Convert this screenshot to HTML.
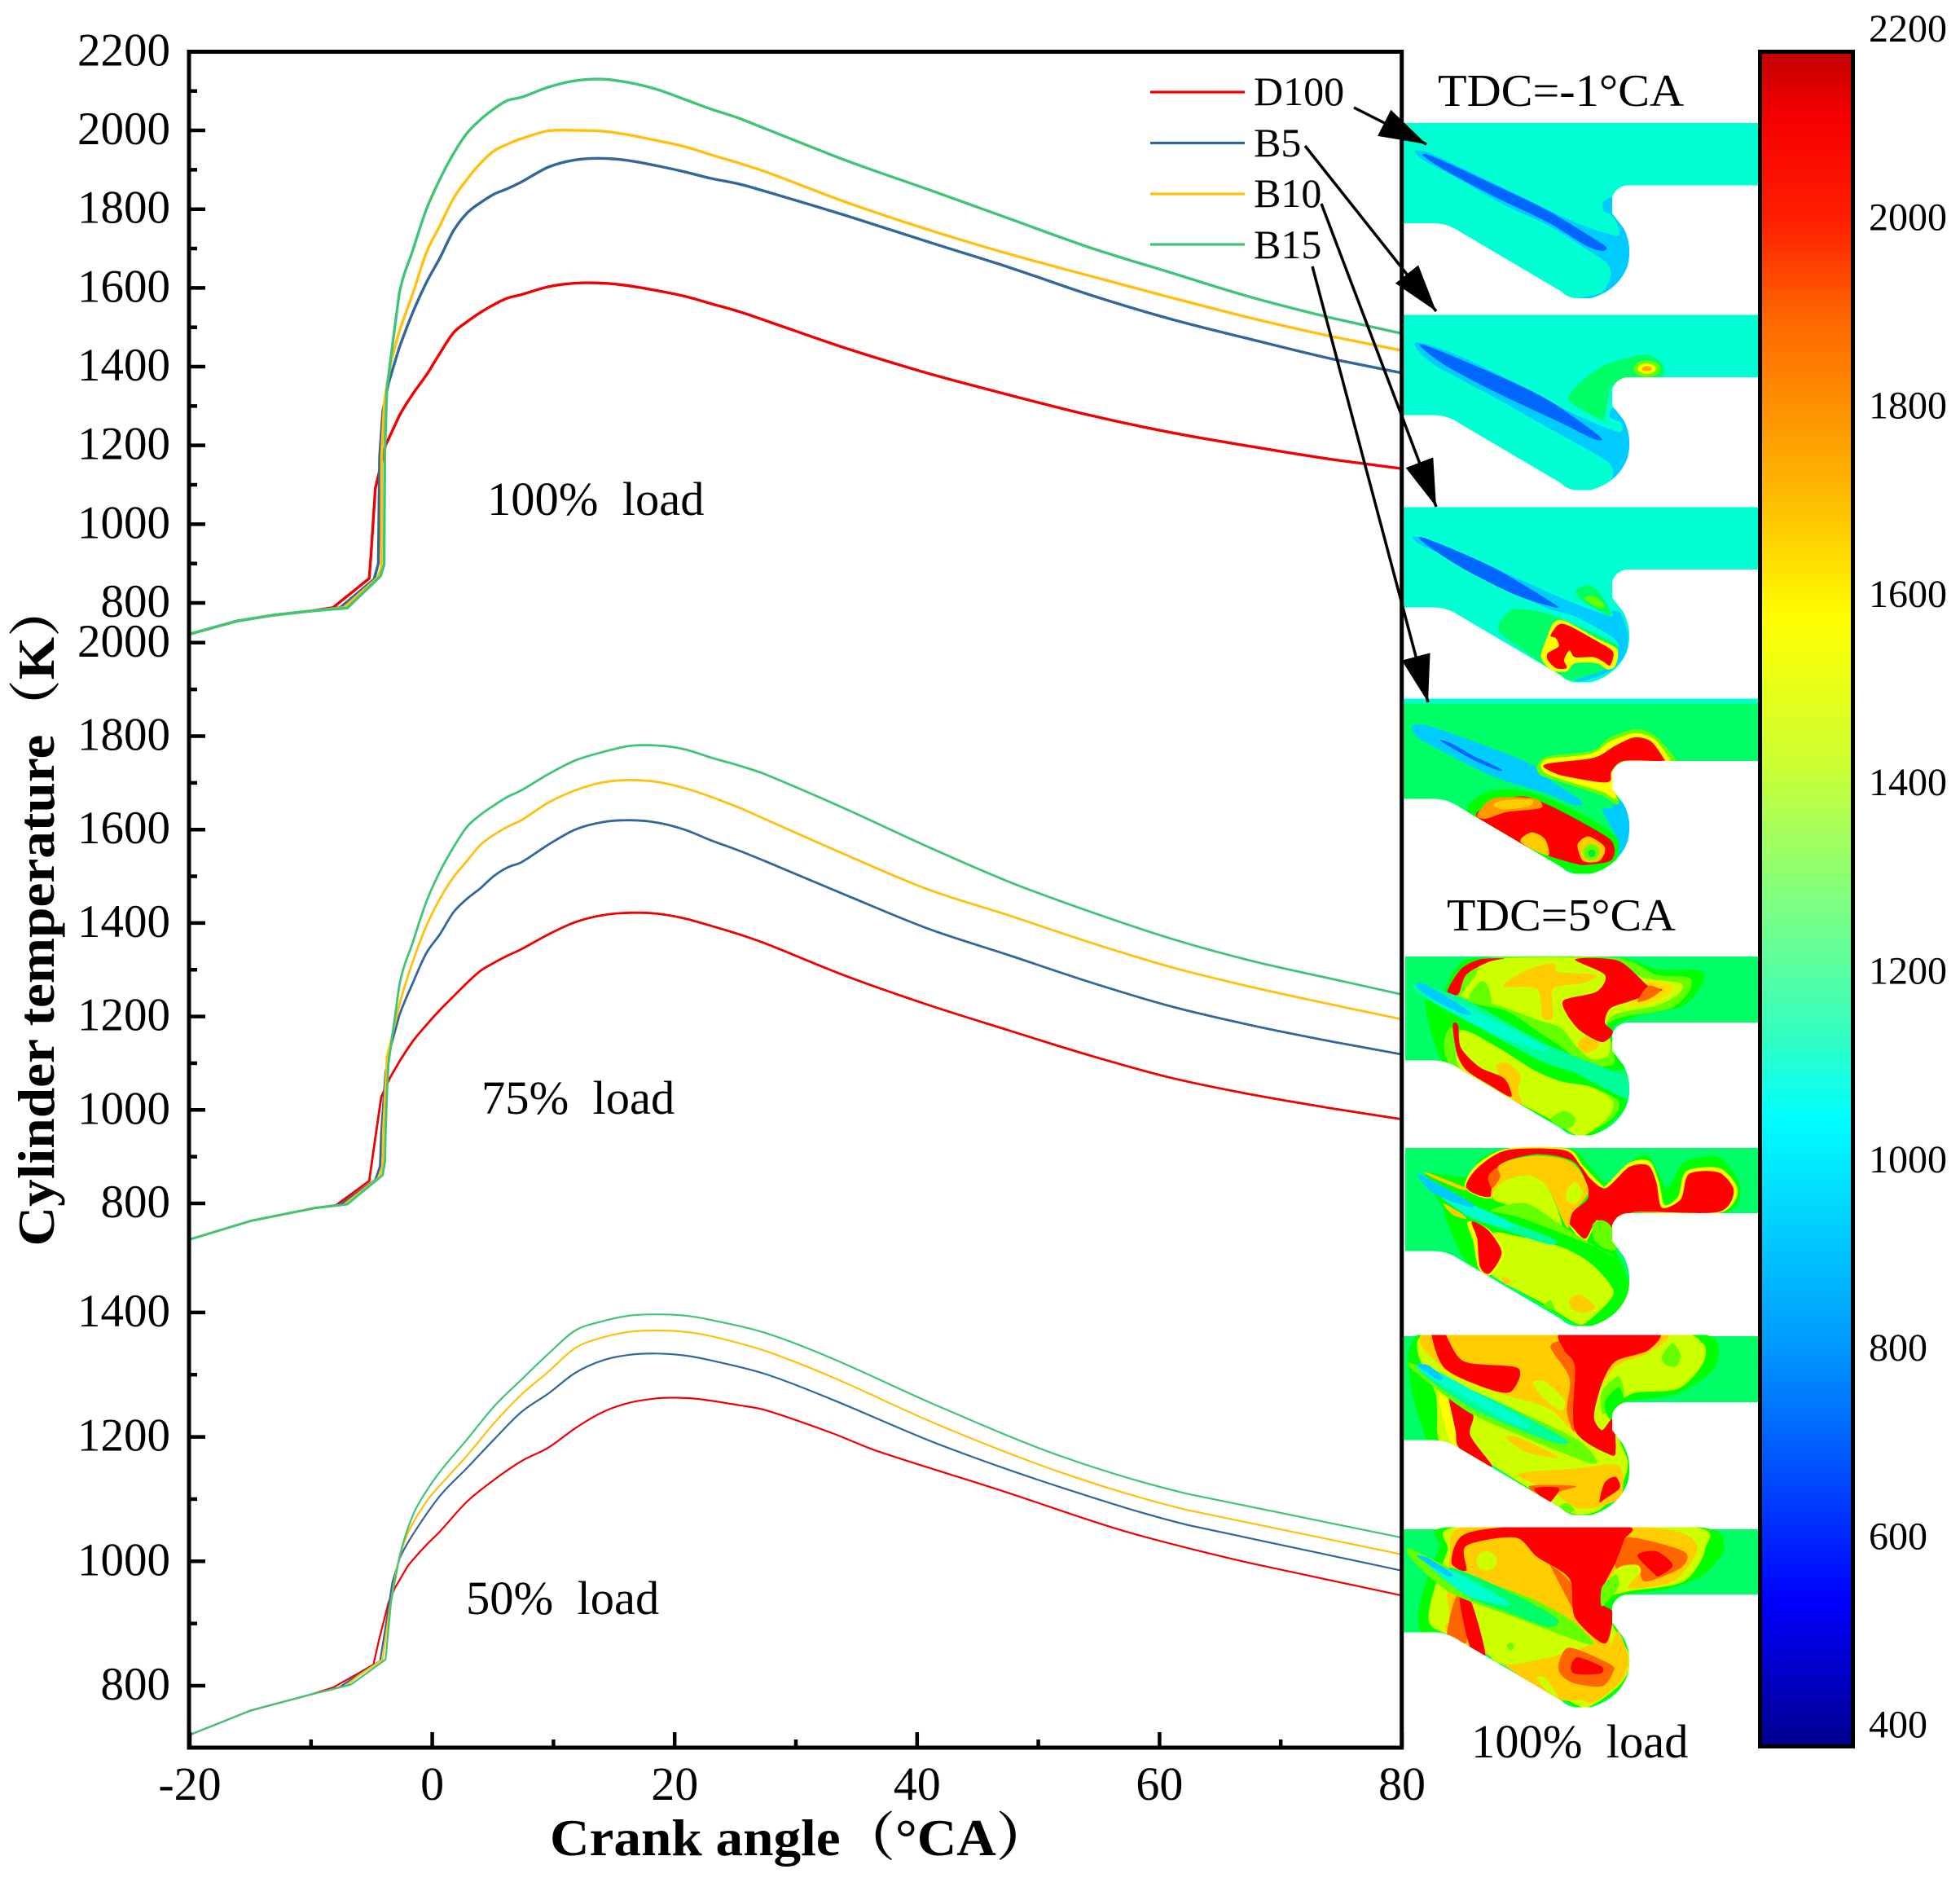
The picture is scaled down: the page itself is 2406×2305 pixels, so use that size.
<!DOCTYPE html>
<html lang="en">
<head>
<meta charset="utf-8">
<title>Cylinder temperature vs crank angle</title>
<style>
html,body{margin:0;padding:0;background:#fff}
svg{display:block}
text{font-family:"Liberation Serif","Noto Serif CJK SC",serif;fill:#000}
</style>
</head>
<body>
<svg id="chart" xmlns="http://www.w3.org/2000/svg" width="2406" height="2305" viewBox="0 0 2406 2305">
<defs>
<clipPath id="chamber"><path d="M0,-6 H436 V76.5 H275 Q262 78 257 91 V111 L271 129 Q282 150 276 175 Q265 205 231 215 H211 Q200 213 195 207 L71 134 Q55 123 38 123 H0 Z"/></clipPath>
<linearGradient id="cbar" gradientUnits="userSpaceOnUse" x1="0" y1="66" x2="0" y2="2141">
<stop offset="0" stop-color="#c40000"/><stop offset=".04" stop-color="#f80000"/><stop offset=".1" stop-color="#ff2000"/><stop offset=".155" stop-color="#ff6600"/><stop offset=".255" stop-color="#ffb400"/><stop offset=".335" stop-color="#ffff00"/><stop offset=".42" stop-color="#ccff33"/><stop offset=".5" stop-color="#80ff80"/><stop offset=".58" stop-color="#33ffc0"/><stop offset=".63" stop-color="#00ffff"/><stop offset=".765" stop-color="#0099ff"/><stop offset=".915" stop-color="#0000ff"/><stop offset="1" stop-color="#000090"/>
</linearGradient>
<marker id="arrowhead" markerUnits="userSpaceOnUse" markerWidth="60" markerHeight="40" refX="58" refY="20" orient="auto"><path d="M0,2 L58,20 L0,38 Z" fill="#000"/></marker>
</defs>

<rect x="0" y="0" width="2406" height="2305" fill="#fff"/>

<!-- contour panels -->
<g class="contour" transform="translate(1722,151)" clip-path="url(#chamber)">
<rect x="0" y="0" width="436" height="220" fill="#00ffd2"/>
<g transform="matrix(.33333,0,0,.35714,-22,-121)">
<polygon fill="#00ccff" points="110,435 160,440 300,500 500,590 700,680 850,725 860,700 840,660 805,640 805,610 838,595 850,650 880,690 910,770 905,830 870,900 800,945 700,950 740,935 800,920 830,870 825,830 780,795 600,690 450,625 250,520 140,465"/>
<polygon fill="#0066ff" points="140,450 180,455 400,550 600,640 760,730 815,765 800,778 740,760 600,680 400,590 220,500"/>
</g></g>

<g class="contour" transform="translate(1722,386.5)" clip-path="url(#chamber)">
<rect x="0" y="0" width="436" height="220" fill="#00ffd2"/>
<g transform="matrix(.33333,0,0,.35714,-22,-356.5)">
<polygon fill="#00ccff" points="110,1095 160,1100 300,1150 520,1250 700,1340 860,1400 870,1370 830,1350 835,1320 870,1340 905,1420 905,1500 880,1560 820,1610 700,1620 780,1600 830,1570 840,1530 800,1490 600,1385 400,1280 200,1180 130,1130"/>
<polygon fill="#0066ff" points="130,1105 170,1110 400,1200 600,1290 790,1415 770,1425 650,1370 400,1260 220,1170"/>
<polygon fill="#00ff66" points="675,1285 720,1230 800,1175 900,1145 970,1135 1020,1165 1030,1195 1010,1213 900,1213 850,1235 830,1250 810,1350 800,1360 720,1320"/>
<ellipse cx="965" cy="1183" rx="50" ry="28" fill="#66ff00"/>
<ellipse cx="965" cy="1183" rx="33" ry="18" fill="#ffff00"/>
<ellipse cx="965" cy="1183" rx="18" ry="9" fill="#ffaa00"/>
</g></g>

<g class="contour" transform="translate(1722,622.5)" clip-path="url(#chamber)">
<rect x="0" y="0" width="436" height="220" fill="#00ffd2"/>
<g transform="matrix(.33333,0,0,.33333,-22,-32.5)">
<polygon fill="#00ccff" points="105,205 200,230 400,320 600,410 720,460 835,500 835,480 870,490 895,570 885,640 830,700 740,735 700,735 780,705 830,680 860,610 830,570 700,500 600,470 450,400 250,290 130,235"/>
<polygon fill="#00ff66" points="425,560 430,510 470,475 530,475 600,490 700,530 830,590 860,620 840,670 790,705 720,725 690,735 640,715 560,660"/>
<polygon fill="#ffff00" points="575,640 600,570 620,525 660,515 780,580 855,620 850,680 820,695 780,672 700,672 670,702 620,700 585,670"/>
<polygon fill="#ff0000" points="610,570 640,530 680,535 780,590 840,630 830,680 810,670 770,650 700,650 680,625 660,660 670,690 630,690 600,660 600,635 640,610 630,580"/>
<polygon fill="#00ff66" points="705,400 750,385 790,410 830,480 820,495 740,450 710,425"/>
<polygon fill="#66ff00" points="735,435 770,425 810,460 790,470"/>
<polygon fill="#0066ff" points="125,210 170,220 400,320 625,455 610,462 480,420 300,330 180,255"/>
</g></g>

<g class="contour" transform="translate(1722,857.5)" clip-path="url(#chamber)">
<rect x="0" y="0" width="436" height="220" fill="#00ff66"/>
<rect x="0" y="0" width="436" height="6" fill="#00ffd2"/>
<g transform="matrix(.33333,0,0,.33333,-22,-267.5)">
<polygon fill="#00ccff" points="100,905 150,900 300,950 530,1040 620,1110 725,1180 700,1195 590,1150 400,1090 200,990 120,945"/>
<polygon fill="#0066ff" points="205,958 240,965 330,1015 425,1060 415,1066 320,1025"/>
<polygon fill="#00ccff" points="800,1210 830,1205 870,1180 905,1250 905,1320 870,1370 850,1380 860,1330 830,1270"/>
<polygon fill="#00ffd2" points="870,1370 905,1320 900,1350 860,1410 790,1445 700,1448 780,1425 840,1400"/>
<polygon fill="#66ff00" points="560,1050 600,1015 760,995 830,945 920,915 990,935 1060,1010 1060,1032 880,1035 840,1075 860,1190 800,1160 650,1110 575,1085"/>
<polygon fill="#ffff00" points="575,1050 600,1025 760,1005 830,960 920,930 990,950 1040,1010 1040,1032 880,1035 840,1075 850,1170 800,1145 650,1100 590,1075"/>
<polygon fill="#ff0000" points="585,1055 610,1040 770,1020 850,975 920,945 980,960 1025,1020 1020,1032 880,1032 835,1070 830,1105 790,1110 650,1085"/>
<polygon fill="#00ff00" points="305,1220 380,1145 530,1145 720,1225 850,1310 860,1370 840,1410 780,1440 700,1445 490,1330"/>
<polygon fill="#ff0000" points="340,1240 380,1200 530,1165 800,1300 845,1350 830,1400 740,1415 700,1410 600,1380 490,1330"/>
<polygon fill="#ff9900" points="340,1230 400,1170 550,1170 575,1205 450,1220 370,1245"/>
<polygon fill="#ffcc00" points="400,1190 450,1175 540,1175 530,1200 430,1210"/>
<polygon fill="#ffcc00" points="500,1330 540,1295 590,1320 600,1380"/>
<polygon fill="#ffcc00" points="710,1340 750,1310 810,1350 790,1400 730,1400"/>
<circle cx="760" cy="1368" r="30" fill="#66ff00"/><circle cx="762" cy="1372" r="14" fill="#00ee33"/>
</g></g>

<g class="contour" transform="translate(1722,1178.5)" clip-path="url(#chamber)">
<rect x="3" y="-4.5" width="433" height="225" fill="#00ff66"/>
<g transform="matrix(.33333,0,0,.34435,-22,-78.5)">
<polygon fill="#00ff00" points="215,340 260,260 350,220 850,220 1000,260 1160,265 1170,310 1100,390 950,420 880,445 840,470 850,560 890,610 780,625 600,590 450,500 350,440 180,350"/>
<polygon fill="#66ff00" points="230,340 280,260 400,218 850,220 1000,280 1120,290 1120,340 1050,400 880,430 820,460 840,540 840,600 740,600 640,530 560,480 450,410 340,385 230,350"/>
<polygon fill="#ccff00" points="290,340 330,290 400,225 800,225 950,290 1090,310 1080,350 1000,390 850,420 810,470 830,520 820,570 760,580 700,530 650,470 560,440 420,390 290,360"/>
<polygon fill="#66ff00" points="310,365 350,305 380,320 390,390"/>
<polygon fill="#ffcc00" points="435,320 530,260 620,240 640,270 780,280 730,310 620,330 620,430 580,430 560,330"/>
<polygon fill="#ffcc00" points="710,530 740,500 790,530 740,560"/>
<polygon fill="#ffdd00" points="970,300 1060,325 1000,375 890,390 960,350"/>
<polygon fill="#ff0000" points="660,370 780,340 810,280 700,225 860,230 970,320 1020,335 900,375 830,400 810,450 840,485 800,520 720,480 670,420"/>
<polygon fill="#ff6600" points="970,320 1015,335 975,365 930,375"/>
<polygon fill="#ff0000" points="230,340 280,260 350,225 440,222 380,235 300,280 270,350"/>
<polygon fill="#00ff00" points="150,370 210,590 300,630 700,850 780,845 880,760 870,700 700,620 580,580 300,440"/>
<polygon fill="#66ff00" points="240,470 400,530 550,620 650,660 760,680 860,730 840,790 740,850 700,850 620,800 500,740 240,600"/>
<polygon fill="#ccff00" points="280,480 400,530 550,620 650,660 760,680 840,730 820,790 740,850 700,850 620,800 500,740 280,620"/>
<polygon fill="#ffcc00" points="410,610 450,595 500,640 490,690 505,740 470,720"/>
<polygon fill="#ff0000" points="250,460 270,460 280,540 350,610 440,650 465,715 380,670 300,620 265,560"/>
<polygon fill="#66ff00" points="610,795 660,765 700,790 690,820 650,825"/>
<polygon fill="#00ff99" points="100,330 130,315 300,370 600,530 900,650 910,720 860,710 700,630 580,590 350,470 180,380"/>
<polygon fill="#00ffcc" points="130,325 300,395 580,530 570,550 400,490 200,390"/>
<polygon fill="#00ccff" points="115,320 150,315 310,410 290,420 180,370"/>
</g></g>

<g class="contour" transform="translate(1722,1412.5)" clip-path="url(#chamber)">
<rect x="3" y="-3.5" width="433" height="225" fill="#00ff66"/>
<g transform="matrix(.33333,0,0,.34435,-22,-312.5)">
<polygon fill="#00ff00" points="150,990 300,1000 350,940 450,900 680,900 760,970 820,1020 900,950 970,925 1040,1040 1100,950 1230,930 1310,1040 1250,1128 900,1130 840,1180 850,1260 900,1380 880,1460 780,1525 700,1525 500,1410 380,1340 290,1290 300,1170 210,1100"/>
<polygon fill="#ffff00" points="295,1040 335,960 450,900 670,900 730,960 800,1030 815,1030 900,950 975,945 1010,1020 1030,1100 1080,1070 1110,980 1235,970 1300,1050 1235,1128 980,1128 900,1130 830,1180 780,1165 740,1230 700,1200 670,1140 750,1070 700,950 560,920 420,960 390,1075"/>
<polygon fill="#ff0000" points="300,1040 340,970 450,905 660,905 720,960 760,1010 815,1040 900,965 970,960 1000,1020 1020,1110 1090,1080 1120,990 1230,985 1285,1050 1230,1125 980,1125 900,1130 830,1180 780,1155 740,1220 700,1190 670,1140 750,1070 700,950 560,920 420,960 390,1070"/>
<polygon fill="#ffcc00" points="390,1080 420,960 560,925 690,950 750,1050 690,1130 670,1180 600,1040 530,995 430,1020"/>
<polygon fill="#ff6600" points="380,1000 410,970 425,1000 395,1040"/>
<polygon fill="#ccff00" points="400,1080 430,1020 530,995 600,1040 650,1180 520,1120"/>
<polygon fill="#ccff00" points="670,1050 700,1020 730,1060 700,1095 670,1085"/>
<polygon fill="#66ff00" points="765,1170 800,1155 835,1180 850,1260 800,1250 770,1220"/>
<polygon fill="#00ff00" points="210,1100 300,1150 520,1215 750,1290 900,1400 880,1460 780,1525 700,1525 500,1410 380,1340 290,1290"/>
<polygon fill="#66ff00" points="390,1120 520,1095 660,1180 780,1250 850,1290 800,1260 620,1190 480,1140"/>
<polygon fill="#ccff00" points="400,1200 480,1210 650,1250 760,1310 840,1400 820,1450 740,1520 700,1520 580,1450 390,1345 430,1270"/>
<polygon fill="#ffff00" points="305,1160 380,1185 440,1270 390,1350 345,1325 325,1230"/>
<polygon fill="#ff0000" points="320,1160 380,1190 430,1270 385,1345 350,1320 340,1220"/>
<polygon fill="#ffcc00" points="680,1440 720,1420 775,1465 730,1485 690,1470"/>
<polygon fill="#ffcc00" points="430,1355 465,1370 445,1385"/>
<polygon fill="#66ff00" points="585,1460 610,1440 625,1475"/>
<polygon fill="#ffcc00" points="155,985 300,1040 280,1045 170,1000"/>
<polygon fill="#ffcc00" points="215,1095 280,1130 300,1150 250,1135"/>
<polygon fill="#00ff99" points="300,1120 470,1165 630,1225 600,1240 440,1190 300,1140"/>
<polygon fill="#00ffcc" points="180,1050 300,1090 470,1165 440,1180 300,1135"/>
<polygon fill="#00ccff" points="120,995 150,1000 320,1095 300,1105 180,1060"/>
</g></g>

<g class="contour" transform="translate(1722,1644.5)" clip-path="url(#chamber)">
<rect x="0" y="-4.5" width="436" height="225" fill="#00ff66"/>
<g transform="matrix(.33333,0,0,.33807,-22,-24.5)">
<polygon fill="#00ff00" points="140,40 1000,40 1200,60 1230,120 1200,190 1070,270 880,300 840,350 850,410 910,520 880,620 780,705 700,712 610,670 400,530 250,450 150,430"/>
<polygon fill="#ccff00" points="165,40 1020,40 1170,85 1170,160 1080,250 920,265 850,310 830,360 860,430 895,520 870,600 790,690 700,705 610,660 400,530 280,460 200,440 190,280"/>
<polygon fill="#ffcc00" points="170,40 1000,40 970,120 850,170 760,300 770,360 850,490 700,410 600,320 400,260 220,180"/>
<polygon fill="#66ff00" points="1020,130 1060,85 1090,130 1070,170 1030,160"/>
<polygon fill="#ccff00" points="545,230 590,225 660,290 650,330 590,290"/>
<polygon fill="#ff6600" points="610,100 660,80 705,170 700,400 670,330 680,210"/>
<polygon fill="#ff0000" points="660,40 1000,40 970,110 850,150 800,230 770,350 800,400 840,360 850,470 830,490 700,400 700,170 660,110"/>
<polygon fill="#ff0000" points="170,40 215,40 290,150 490,175 465,260 380,250 220,175"/>
<polygon fill="#66ff00" points="800,340 800,260 860,205 880,270 840,320"/>
<polygon fill="#00ff00" points="830,360 810,300 860,245 880,300"/>
<polygon fill="#ffff00" points="200,300 215,270 250,330 270,460 240,440"/>
<polygon fill="#ffcc00" points="445,425 500,430 640,500 520,480"/>
<polygon fill="#ff0000" points="235,280 260,290 325,345 315,420 395,530 340,510 270,460 260,400"/>
<polygon fill="#ffcc00" points="490,560 700,540 860,530 870,640 780,680 700,680 610,620"/>
<polygon fill="#ff6600" points="530,605 640,600 705,605 640,625 600,655"/>
<polygon fill="#ff0000" points="550,612 640,610 620,650 600,660"/>
<polygon fill="#ff0000" points="790,660 810,590 850,570 865,610 810,650"/>
<polygon fill="#66ff00" points="640,680 670,665 700,690 670,700"/>
<polygon fill="#66ff00" points="90,170 130,170 400,290 700,430 780,510 740,515 500,420 300,330"/>
<polygon fill="#00ff99" points="130,185 400,290 660,430 640,450 500,400 300,310"/>
<polygon fill="#00ffcc" points="115,170 200,190 520,370 480,380 220,240"/>
<polygon fill="#00ccff" points="120,165 160,165 215,210 190,215"/>
</g></g>

<g class="contour" transform="translate(1722,1880.5)" clip-path="url(#chamber)">
<rect x="0" y="-3.5" width="436" height="225" fill="#00ff66"/>
<g transform="matrix(.33333,0,0,.33807,-22,-260.5)">
<polygon fill="#00ff00" points="130,1130 130,1020 200,830 250,750 1130,750 1250,820 1180,920 1050,975 880,1000 840,1040 850,1110 910,1230 880,1330 770,1400 700,1405 400,1215 280,1170 200,1130"/>
<polygon fill="#ccff00" points="170,1110 170,1020 230,840 280,750 1120,750 1180,830 1100,950 900,985 810,1010 800,1040 830,1060 840,1110 905,1230 870,1320 770,1395 700,1395 400,1210 280,1160"/>
<polygon fill="#ffcc00" points="240,860 300,750 890,750 1100,775 1150,840 1060,950 900,975 920,930 850,910 810,1010 800,1040 830,1060 830,1180 860,1130 895,1230 870,1310 770,1390 720,1380 620,1370 370,1210 230,1140 230,990"/>
<polygon fill="#ff6600" points="880,790 1100,840 1090,900 960,950 930,900 850,900"/>
<polygon fill="#ff6600" points="490,780 550,790 700,1060 680,950 560,850"/>
<polygon fill="#ff0000" points="245,880 290,780 490,750 890,750 880,800 850,880 810,960 800,1030 840,1065 810,1175 700,1080 680,940 560,860 480,790 300,820 300,910"/>
<polygon fill="#ff0000" points="930,855 1000,840 1060,890 1010,930 990,920"/>
<polygon fill="#ccff00" points="810,980 860,900 930,890 940,920 880,950"/>
<polygon fill="#66ff00" points="800,1040 800,970 850,925 860,970"/>
<ellipse cx="375" cy="875" rx="38" ry="35" fill="#ccff00"/>
<polygon fill="#ccff00" points="330,1030 600,1110 750,1180 470,1250 380,1210"/>
<polygon fill="#ff6600" points="230,1145 260,1010 290,1015 300,1170"/>
<polygon fill="#ff0000" points="275,1010 320,1030 370,1215 315,1190"/>
<polygon fill="#ccff00" points="175,1090 190,1000 225,990 235,1100"/>
<circle cx="463" cy="1185" r="13" fill="#66ff00"/>
<polygon fill="#ff6600" points="640,1250 680,1190 830,1250 840,1280 800,1330 700,1320 650,1290"/>
<polygon fill="#ff0000" points="685,1260 710,1225 800,1260 790,1285 700,1285"/>
<polygon fill="#ccff00" points="560,1300 590,1300 640,1370 600,1350"/>
<polygon fill="#66ff00" points="90,830 100,870 240,990 480,1080 760,1180 700,1100 560,1020 400,960 240,900"/>
<polygon fill="#00ff66" points="240,900 420,970 630,1080 600,1115 450,1060 300,1000"/>
<polygon fill="#00ffcc" points="150,880 270,920 450,1020 440,1035 300,1000"/>
<polygon fill="#00ccff" points="120,860 160,865 245,920 230,930"/>
</g></g>

<!-- colour bar -->
<g>
<rect x="2160.5" y="63.5" width="114" height="2080" fill="url(#cbar)" stroke="#000" stroke-width="5"/>
</g>
<g id="cbar-labels"></g>

<!-- chart layers filled by script -->
<g id="plot-lines"></g>
<rect x="232" y="63.5" width="1488.7" height="2081.5" fill="none" stroke="#000" stroke-width="5"/>
<g id="y-axes"></g>
<g id="x-axis"></g>

<!-- text -->
<text x="0" y="0" font-size="64" font-weight="bold" text-anchor="middle" textLength="815" lengthAdjust="spacingAndGlyphs" transform="translate(66,1122) rotate(-90)">Cylinder temperature（K）</text>
<text x="675" y="2277" font-size="64" font-weight="bold" textLength="615" lengthAdjust="spacingAndGlyphs">Crank angle（°CA）</text>
<text x="598" y="632" font-size="58.5" xml:space="preserve">100%  load</text>
<text x="591" y="1367" font-size="58.5" xml:space="preserve">75%  load</text>
<text x="572" y="1981" font-size="58.5" xml:space="preserve">50%  load</text>
<text x="1806" y="2157" font-size="58.5" xml:space="preserve">100%  load</text>
<text x="1765" y="130" font-size="56" textLength="302" lengthAdjust="spacingAndGlyphs">TDC=-1°CA</text>
<text x="1776" y="1142" font-size="56" textLength="281" lengthAdjust="spacingAndGlyphs">TDC=5°CA</text>

<!-- legend -->
<g>
<line x1="1412" y1="113" x2="1528" y2="113" stroke="#f00000" stroke-width="3.3"/>
<text x="1539" y="129" font-size="50">D100</text>
<line x1="1412" y1="175.5" x2="1528" y2="175.5" stroke="#336699" stroke-width="3.3"/>
<text x="1539" y="192" font-size="50">B5</text>
<line x1="1412" y1="238" x2="1528" y2="238" stroke="#ffc010" stroke-width="3.3"/>
<text x="1539" y="254" font-size="50">B10</text>
<line x1="1412" y1="300" x2="1528" y2="300" stroke="#40c475" stroke-width="3.3"/>
<text x="1539" y="317" font-size="50">B15</text>
</g>

<!-- arrows -->
<g stroke="#000" stroke-width="3.5" fill="none" marker-end="url(#arrowhead)">
<line x1="1662" y1="132" x2="1751" y2="177" marker-end="url(#arrowhead)"/>
<line x1="1602" y1="179" x2="1763" y2="382" marker-end="url(#arrowhead)"/>
<line x1="1622" y1="250" x2="1763" y2="622" marker-end="url(#arrowhead)"/>
<line x1="1611" y1="327" x2="1753" y2="862" marker-end="url(#arrowhead)"/>
</g>
</svg>

<script>
// ---- crank-angle tick values ----
const xMajorTicks = [-20, 0, 20, 40, 60, 80];
const xMinorTicks = [-10, 10, 30, 50, 70];
const colorbarLabels = [2200, 2000, 1800, 1600, 1400, 1200, 1000, 800, 600, 400];

// ---- y tick values per load panel ----
const ticks100Major = [800, 1000, 1200, 1400, 1600, 1800, 2000, 2200];
const ticks100Minor = [900, 1100, 1300, 1500, 1700, 1900, 2100];
const ticks75Major = [800, 1000, 1200, 1400, 1600, 1800, 2000];
const ticks75Minor = [900, 1100, 1300, 1500, 1700, 1900];
const ticks50Major = [800, 1000, 1200, 1400];
const ticks50Minor = [900, 1100, 1300];

// ---- 100% load ----
const angle100D100 = [-20,-16.1,-13.1,-10.1,-8.2,-5.2,-5.05,-4.7,-4.07,-3.85,-2.72,-1.6,-0.48,0.63,1.75,2.87,4,5.1,6.2,7.35,9.6,11.8,14.07,16.3,18.55,20.8,23,25.3,27.5,34.2,40.9,47.6,54.2,60.9,67.6,74.3,80];
const temp100D100 = [721,754,769,779,788,862,924,1090,1172,1200,1275,1331,1379,1434,1486,1514,1538,1558,1574,1583,1603,1612,1612,1605,1593,1579,1560,1540,1517,1446,1383,1328,1277,1233,1197,1164,1141];
const angle100B5 = [-20,-16.1,-13.1,-10.1,-7.6,-4.8,-4.45,-4.34,-4.07,-3.6,-3.2,-2.72,-1.6,-0.48,0.63,1.75,2.87,4,5.1,6.2,7.35,9.6,11.8,14.07,16.3,18.55,20.8,23,25.3,27.5,34.2,40.9,47.6,54.2,60.9,67.6,74.3,80];
const temp100B5 = [721,754,769,779,788,860,900,1172,1289,1358,1400,1448,1538,1614,1676,1745,1790,1817,1838,1852,1869,1907,1925,1929,1923,1910,1895,1878,1864,1845,1783,1717,1652,1583,1521,1469,1419,1384];
const angle100B10 = [-20,-16.1,-13.1,-10.1,-7.3,-4.5,-4.2,-4.18,-3.96,-3.74,-3.4,-2.72,-1.6,-0.48,0.63,1.75,2.87,4,5.1,6.2,7.35,9.6,11.8,14.07,16.3,18.55,20.8,23,25.3,27.5,34.2,40.9,47.6,54.2,60.9,67.6,74.3,80];
const temp100B10 = [721,754,769,779,788,864,890,1172,1310,1351,1413,1489,1586,1690,1758,1827,1876,1917,1948,1965,1979,1999,2000,1998,1988,1974,1959,1938,1917,1895,1817,1748,1686,1631,1576,1523,1476,1441];
const angle100B15 = [-20,-16.1,-13.1,-10.1,-7,-4.27,-3.97,-3.92,-3.74,-3.4,-2.72,-1.6,-0.48,0.63,1.75,2.87,4,5.1,6.2,7.35,9.6,11.8,14.07,16.3,18.55,20.8,23,25.3,27.5,34.2,40.9,47.6,54.2,60.9,67.6,74.3,80];
const temp100B15 = [721,754,769,779,787,868,897,1172,1344,1427,1586,1696,1800,1876,1941,1993,2028,2055,2076,2084,2110,2126,2130,2121,2104,2079,2054,2031,2004,1923,1850,1776,1703,1639,1576,1523,1484];

// ---- 75% load ----
const angle75D100 = [-20,-14.9,-9.7,-8,-5.2,-4.63,-4.2,-3.5,-2.72,-1.6,-0.48,0.63,1.75,2.87,4,5.1,6.2,7.35,9.6,11.8,14.07,16.3,18.55,20.8,23,25.3,27.5,34.2,40.9,47.6,54.2,60.9,67.6,74.3,80];
const temp75D100 = [723,763,790,795,848,952,1028,1068,1103,1147,1182,1214,1243,1272,1298,1315,1330,1344,1376,1402,1417,1422,1420,1410,1394,1376,1356,1286,1225,1170,1117,1069,1033,1003,980];
const angle75B5 = [-20,-14.9,-9.7,-7.6,-4.7,-4.3,-4.2,-3.85,-3.4,-2.72,-1.6,-0.48,0.63,1.75,2.87,4,5.1,6.2,7.35,9.6,11.8,14.07,16.3,18.55,20.8,23,25.3,27.5,34.2,40.9,47.6,54.2,60.9,67.6,74.3,80];
const temp75B5 = [723,763,790,797,850,880,952,1080,1138,1202,1272,1336,1376,1423,1452,1475,1501,1519,1530,1568,1600,1616,1620,1615,1600,1577,1555,1532,1459,1388,1331,1274,1222,1181,1146,1119];
const angle75B10 = [-20,-14.9,-9.7,-7.3,-4.4,-4.1,-4.05,-3.73,-3.5,-2.72,-1.6,-0.48,0.63,1.75,2.87,4,5.1,6.2,7.35,9.6,11.8,14.07,16.3,18.55,20.8,23,25.3,27.5,34.2,40.9,47.6,54.2,60.9,67.6,74.3,80];
const temp75B10 = [723,763,790,797,855,880,952,1115,1138,1225,1318,1394,1452,1498,1533,1568,1589,1606,1620,1658,1684,1701,1706,1702,1689,1670,1647,1622,1545,1472,1416,1359,1306,1263,1225,1194];
const angle75B15 = [-20,-14.9,-9.7,-7,-4.1,-3.9,-3.85,-3.73,-3.62,-2.72,-1.6,-0.48,0.63,1.75,2.87,4,5.1,6.2,7.35,9.6,11.8,14.07,16.3,18.55,20.8,23,25.3,27.5,34.2,40.9,47.6,54.2,60.9,67.6,74.3,80];
const temp75B15 = [723,763,790,798,860,890,952,1039,1097,1266,1359,1446,1510,1562,1606,1632,1652,1670,1684,1719,1748,1766,1779,1780,1772,1754,1737,1718,1643,1563,1488,1425,1367,1319,1280,1247];

// ---- 50% load ----
const angle50D100 = [-20,-15,-10,-8.2,-6.09,-4.85,-4.4,-3.6,-3.06,-2.06,-0.5,0.63,2.87,5.1,7.35,9.6,11.8,14.07,16.3,18.5,19.9,21.9,25.3,27.5,33,36.6,46.9,57.2,67.5,80];
const temp50D100 = [721,760,786,797,820,834,873,934,958,991,1026,1048,1096,1131,1161,1183,1214,1240,1255,1262,1263,1261,1251,1243,1206,1178,1114,1048,997,945];
const angle50B5 = [-20,-15,-10,-7.7,-6.09,-4.3,-3.85,-3.3,-2.7,-1.6,0.63,2.87,5.1,7.35,9.6,11.8,14.07,16.3,18.5,20.8,23,27.5,33,41.8,52,62.4,80];
const temp50B5 = [721,760,786,797,818,840,895,965,1004,1043,1105,1150,1196,1240,1270,1303,1323,1332,1334,1331,1323,1301,1260,1188,1118,1058,985];
const angle50B10 = [-20,-15,-10,-7.2,-6.09,-4.1,-3.5,-2.9,-2.06,-0.48,0.63,2.87,5.1,7.35,9.6,11.8,14.07,16.3,18.5,20.8,23,27.5,33,41.8,52,62.4,80];
const temp50B10 = [721,760,786,799,816,842,925,991,1043,1096,1122,1170,1222,1268,1305,1343,1360,1369,1371,1369,1362,1338,1296,1219,1142,1082,1011];
const angle50B15 = [-20,-15,-10,-6.7,-3.85,-3.4,-2.7,-1.6,-0.48,0.63,2.87,5.1,7.35,9.6,11.8,14.07,16.3,18.5,20.8,23,27.5,33,41.8,52,62.4,80];
const temp50B15 = [721,760,786,802,842,934,1008,1074,1113,1144,1196,1249,1292,1334,1371,1386,1395,1397,1395,1388,1367,1326,1249,1168,1108,1038];

const svgNS = 'http://www.w3.org/2000/svg';

// axis functions
function xScale(a) { return 530.6 + 14.88 * a; }
function y100(t) { return 740 - (t - 800) * 0.4833; }
function y75(t) { return 1477 - (t - 800) * 0.5735; }
function y50(t) { return 2069 - (t - 800) * 0.7635; }

function buildPath(angles, temps, yFn) {
  const pts = angles.map(function (a, i) { return [xScale(a), yFn(temps[i])]; });
  let d = 'M' + pts[0][0].toFixed(1) + ',' + pts[0][1].toFixed(1);
  for (let i = 1; i < pts.length; i++) {
    const p1 = pts[i - 1], p2 = pts[i];
    if (angles[i - 1] < -3 || i < 2 || i > pts.length - 2) {
      d += 'L' + p2[0].toFixed(1) + ',' + p2[1].toFixed(1);
    } else {
      const p0 = pts[i - 2], p3 = pts[i + 1];
      const dx = (p2[0] - p1[0]) / 3;
      const m1 = (p2[1] - p0[1]) / (p2[0] - p0[0]);
      const m2 = (p3[1] - p1[1]) / (p3[0] - p1[0]);
      d += 'C' + (p1[0] + dx).toFixed(1) + ',' + (p1[1] + m1 * dx).toFixed(1) + ' ' +
           (p2[0] - dx).toFixed(1) + ',' + (p2[1] - m2 * dx).toFixed(1) + ' ' +
           p2[0].toFixed(1) + ',' + p2[1].toFixed(1);
    }
  }
  return d;
}

const linesGroup = document.getElementById('plot-lines');
function addCurve(name, angles, temps, yFn, color, width) {
  const path = document.createElementNS(svgNS, 'path');
  path.setAttribute('d', buildPath(angles, temps, yFn));
  path.setAttribute('fill', 'none');
  path.setAttribute('stroke', color);
  path.setAttribute('stroke-width', width);
  path.setAttribute('stroke-linejoin', 'round');
  
  
  linesGroup.appendChild(path);
}

const colorD100 = '#f00000', colorB5 = '#336699', colorB10 = '#ffc010', colorB15 = '#40c475';
addCurve('curve-100-load-d100', angle100D100, temp100D100, y100, colorD100, 3.4);
addCurve('curve-100-load-b5', angle100B5, temp100B5, y100, colorB5, 3.4);
addCurve('curve-100-load-b10', angle100B10, temp100B10, y100, colorB10, 3.4);
addCurve('curve-100-load-b15', angle100B15, temp100B15, y100, colorB15, 3.4);
addCurve('curve-75-load-d100', angle75D100, temp75D100, y75, colorD100, 2.8);
addCurve('curve-75-load-b5', angle75B5, temp75B5, y75, colorB5, 2.8);
addCurve('curve-75-load-b10', angle75B10, temp75B10, y75, colorB10, 2.8);
addCurve('curve-75-load-b15', angle75B15, temp75B15, y75, colorB15, 2.8);
addCurve('curve-50-load-d100', angle50D100, temp50D100, y50, colorD100, 2.2);
addCurve('curve-50-load-b5', angle50B5, temp50B5, y50, colorB5, 2.2);
addCurve('curve-50-load-b10', angle50B10, temp50B10, y50, colorB10, 2.2);
addCurve('curve-50-load-b15', angle50B15, temp50B15, y50, colorB15, 2.2);

// axes
const yGroup = document.getElementById('y-axes');
function addYTicks(majors, minors, yFn, panel) {
  majors.forEach(function (t) {
    const tick = document.createElementNS(svgNS, 'line');
    tick.setAttribute('x1', 232);
    tick.setAttribute('x2', 252);
    tick.setAttribute('y1', yFn(t));
    tick.setAttribute('y2', yFn(t));
    tick.setAttribute('stroke', '#000');
    tick.setAttribute('stroke-width', 4.5);
    
    
    yGroup.appendChild(tick);
    const label = document.createElementNS(svgNS, 'text');
    label.setAttribute('x', 209);
    label.setAttribute('y', yFn(t) + 17);
    label.setAttribute('font-size', 57);
    label.setAttribute('text-anchor', 'end');
    
    
    label.textContent = t;
    yGroup.appendChild(label);
  });
  minors.forEach(function (t) {
    const tick = document.createElementNS(svgNS, 'line');
    tick.setAttribute('x1', 232);
    tick.setAttribute('x2', 242);
    tick.setAttribute('y1', yFn(t));
    tick.setAttribute('y2', yFn(t));
    tick.setAttribute('stroke', '#000');
    tick.setAttribute('stroke-width', 4.5);
    
    
    yGroup.appendChild(tick);
  });
}
addYTicks(ticks100Major, ticks100Minor, y100, 'load-100');
addYTicks(ticks75Major, ticks75Minor, y75, 'load-75');
addYTicks(ticks50Major, ticks50Minor, y50, 'load-50');

const xGroup = document.getElementById('x-axis');
xMajorTicks.forEach(function (a) {
  const tick = document.createElementNS(svgNS, 'line');
  tick.setAttribute('x1', xScale(a));
  tick.setAttribute('x2', xScale(a));
  tick.setAttribute('y1', 2145);
  tick.setAttribute('y2', 2126);
  tick.setAttribute('stroke', '#000');
  tick.setAttribute('stroke-width', 4.5);
  
  
  xGroup.appendChild(tick);
  const label = document.createElementNS(svgNS, 'text');
  label.setAttribute('x', xScale(a));
  label.setAttribute('y', 2209);
  label.setAttribute('font-size', 58);
  label.setAttribute('text-anchor', 'middle');
  
  
  label.textContent = a;
  xGroup.appendChild(label);
});
xMinorTicks.forEach(function (a) {
  const tick = document.createElementNS(svgNS, 'line');
  tick.setAttribute('x1', xScale(a));
  tick.setAttribute('x2', xScale(a));
  tick.setAttribute('y1', 2145);
  tick.setAttribute('y2', 2135);
  tick.setAttribute('stroke', '#000');
  tick.setAttribute('stroke-width', 4.5);
  
  
  xGroup.appendChild(tick);
});

// colour bar labels
function cbarLabelY(v) { return 51 + (2200 - v) * 1.1565; }
const cbarGroup = document.getElementById('cbar-labels');
colorbarLabels.forEach(function (v) {
  const label = document.createElementNS(svgNS, 'text');
  label.setAttribute('x', 2294);
  label.setAttribute('y', cbarLabelY(v));
  label.setAttribute('font-size', 48);
  
  
  label.textContent = v;
  cbarGroup.appendChild(label);
});

// round the contour region outlines into smooth closed curves
document.querySelectorAll('.contour polygon').forEach(function (poly) {
  const nums = poly.getAttribute('points').trim().split(/[\s,]+/).map(Number);
  const p = [];
  for (let i = 0; i < nums.length; i += 2) { p.push([nums[i], nums[i + 1]]); }
  const n = p.length;
  const k = 0.14;
  let d = 'M' + p[0][0] + ',' + p[0][1];
  for (let i = 0; i < n; i++) {
    const a = p[(i - 1 + n) % n], b = p[i], c = p[(i + 1) % n], e = p[(i + 2) % n];
    d += 'C' + (b[0] + (c[0] - a[0]) * k).toFixed(1) + ',' + (b[1] + (c[1] - a[1]) * k).toFixed(1) + ' ' +
         (c[0] - (e[0] - b[0]) * k).toFixed(1) + ',' + (c[1] - (e[1] - b[1]) * k).toFixed(1) + ' ' +
         c[0] + ',' + c[1];
  }
  const path = document.createElementNS(svgNS, 'path');
  path.setAttribute('d', d + 'Z');
  path.setAttribute('fill', poly.getAttribute('fill'));
  poly.parentNode.replaceChild(path, poly);
});
</script>
</body>
</html>
